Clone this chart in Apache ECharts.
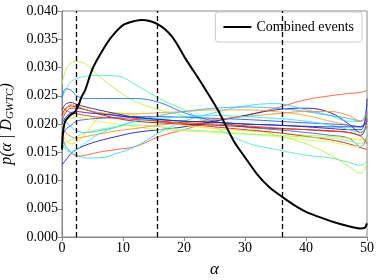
<!DOCTYPE html>
<html><head><meta charset="utf-8">
<script src="https://cdn.jsdelivr.net/npm/echarts@6/dist/echarts.min.js"></script>
<style>html,body{margin:0;padding:0;background:#fff}#c{width:380px;height:280px}</style>
</head><body><div id="c"></div>
<script>
// x positions for thin posterior curves
const alphaGrid = [0, 0.6, 1.5, 2.4, 4, 6, 9, 12, 16, 20, 25, 30, 35, 40, 44, 47, 49, 50];
const evtColors = ['#b8f040','#50f0b0','#2070ff','#ff5a30','#1818b0','#30d8ff','#e6e600','#e02020','#a01010','#ffa020','#3050ff','#40b0ff','#2020a0','#d0ff40','#80ff80','#ff8c20','#ff3010','#20f0f0','#0030e0'];
const ev1  = [0.027,0.0295,0.0308,0.0311,0.0305,0.0285,0.026,0.024,0.0225,0.0215,0.0205,0.0195,0.018,0.0165,0.0145,0.0125,0.0113,0.013];
const ev2  = [0.0245,0.026,0.0275,0.028,0.0285,0.0286,0.0285,0.027,0.0245,0.0225,0.0195,0.0168,0.0155,0.0145,0.014,0.0132,0.0127,0.0135];
const ev3  = [0.0245,0.0262,0.026,0.025,0.0245,0.0245,0.0245,0.0245,0.0238,0.022,0.0205,0.0195,0.019,0.0185,0.018,0.0175,0.016,0.018];
const ev4  = [0.0185,0.016,0.015,0.0143,0.0145,0.015,0.0155,0.016,0.0178,0.019,0.0205,0.0215,0.0228,0.0243,0.025,0.0254,0.0256,0.026];
const ev5  = [0.0128,0.0136,0.0148,0.0155,0.0163,0.017,0.0178,0.0185,0.019,0.0195,0.0205,0.0215,0.0225,0.0228,0.022,0.02,0.0185,0.0195];
const ev6  = [0.0175,0.016,0.015,0.0145,0.014,0.014,0.0148,0.016,0.0185,0.0205,0.022,0.0232,0.0236,0.0225,0.0215,0.0205,0.0205,0.0235];
const ev7  = [0.0185,0.0172,0.0165,0.0168,0.0185,0.021,0.022,0.0215,0.0205,0.0198,0.0192,0.0188,0.0185,0.018,0.0178,0.0175,0.0172,0.0175];
const ev8  = [0.0205,0.022,0.0228,0.0228,0.0225,0.022,0.0215,0.021,0.0205,0.02,0.0195,0.019,0.0185,0.0178,0.0172,0.0165,0.0158,0.0155];
const ev9  = [0.0215,0.0228,0.0232,0.023,0.0225,0.0218,0.021,0.0205,0.0202,0.02,0.0198,0.0195,0.0192,0.019,0.0188,0.0185,0.018,0.021];
const ev10 = [0.021,0.0225,0.0235,0.0232,0.0225,0.022,0.0218,0.0218,0.022,0.0222,0.0225,0.0225,0.0222,0.0215,0.0205,0.0198,0.0195,0.0205];
const ev11 = [0.0175,0.019,0.0198,0.0205,0.0208,0.021,0.0212,0.0213,0.0213,0.0212,0.021,0.0208,0.0205,0.0202,0.02,0.0198,0.0195,0.022];
const ev12 = [0.0215,0.0205,0.0195,0.0188,0.0185,0.0188,0.0195,0.0205,0.0215,0.0222,0.0228,0.023,0.0228,0.0222,0.0215,0.021,0.0205,0.0215];
const ev13 = [0.0225,0.0235,0.0238,0.0235,0.023,0.0225,0.0218,0.0212,0.0208,0.0205,0.0203,0.02,0.0198,0.0195,0.0192,0.019,0.019,0.0245];
const ev14 = [0.0195,0.0205,0.021,0.0212,0.021,0.0205,0.02,0.0195,0.019,0.0188,0.0185,0.0182,0.0178,0.0172,0.0168,0.0162,0.016,0.017];
const ev15 = [0.0155,0.0165,0.0172,0.0178,0.0185,0.019,0.0195,0.0198,0.0195,0.019,0.0187,0.0183,0.018,0.0177,0.0175,0.017,0.0165,0.018];
const ev16 = [0.0195,0.0185,0.0178,0.0175,0.0178,0.0182,0.0188,0.0192,0.0198,0.0202,0.0208,0.0213,0.0218,0.0222,0.0222,0.0215,0.0205,0.022];
const ev17 = [0.023,0.0225,0.022,0.0218,0.0215,0.0212,0.021,0.0208,0.0205,0.0202,0.02,0.0197,0.0193,0.019,0.0187,0.0185,0.0178,0.0165];
const ev18 = [0.0165,0.0155,0.015,0.0155,0.0168,0.0182,0.0195,0.0205,0.021,0.0213,0.0215,0.0213,0.021,0.0205,0.0198,0.019,0.0185,0.0195];
const ev19 = [0.02,0.0212,0.022,0.0222,0.022,0.0218,0.0215,0.0212,0.0208,0.0205,0.0203,0.02,0.0198,0.0196,0.0195,0.0195,0.0195,0.0205];
const eventCurves = [ev1,ev2,ev3,ev4,ev5,ev6,ev7,ev8,ev9,ev10,ev11,ev12,ev13,ev14,ev15,ev16,ev17,ev18,ev19];

// combined posterior
const combAlpha = [0,0.15,0.5,1.3,2.1,2.7,3.2,3.8,4.6,5.1,6.2,7.9,10,12.2,13.1,15.6,18,20.4,23,25.6,28.1,30,32,34,36.1,38,40.1,42,44.5,47,48.9,49.6,50];
const combP = [0.0155,0.0183,0.0204,0.0215,0.0221,0.0233,0.0248,0.026,0.0286,0.03,0.0322,0.0351,0.0375,0.0383,0.0384,0.0377,0.0355,0.0313,0.027,0.0224,0.0171,0.0141,0.0111,0.0088,0.0071,0.0057,0.0044,0.0036,0.00265,0.0019,0.0015,0.0016,0.0024];

const dashedAlpha = [2.4, 15.6, 36.1];
const xTicks = [0, 10, 20, 30, 40, 50];
const yTicks = [0, 0.005, 0.01, 0.015, 0.02, 0.025, 0.03, 0.035, 0.04];

const chart = echarts.init(document.getElementById('c'));
const serif = 'Liberation Serif';
const series = eventCurves.map((vals, i) => ({
  type: 'line', name: 'ev' + i, symbol: 'none', smooth: 0.4, silent: true,
  data: alphaGrid.map((a, j) => [a, vals[j]]),
  lineStyle: { color: evtColors[i], width: 0.9 }
}));
series.push({
  type: 'line', name: 'Combined events', symbol: 'none', smooth: 0.3, z: 10,
  data: combAlpha.map((a, j) => [a, combP[j]]),
  lineStyle: { color: '#000', width: 2 }, itemStyle: { color: '#000' },
  markLine: {
    silent: true, symbol: 'none', label: { show: false },
    lineStyle: { color: '#000', type: [5, 3], width: 1.3 },
    data: dashedAlpha.map(a => ({ xAxis: a }))
  }
});

chart.setOption({
  animation: false,
  grid: { left: 62, right: 13, top: 11, bottom: 43, show: true, borderColor: '#888', borderWidth: 1,
          containLabel: false, outerBoundsMode: 'none' },
  legend: {
    data: ['Combined events'], right: 18, top: 12, orient: 'vertical',
    icon: 'rect', itemWidth: 28, itemHeight: 2, itemGap: 4,
    padding: [8, 8, 8, 8], borderColor: '#ccc', borderWidth: 1, borderRadius: 3,
    backgroundColor: 'rgba(255,255,255,0.85)',
    textStyle: { fontFamily: serif, fontSize: 14, color: '#000' }
  },
  xAxis: {
    type: 'value', min: 0, max: 50, interval: 10,
    name: 'α', nameLocation: 'middle', nameGap: 24,
    nameTextStyle: { fontFamily: serif, fontSize: 17, fontStyle: 'italic', color: '#000' },
    axisLine: { lineStyle: { color: '#888' } },
    axisTick: { lineStyle: { color: '#888' }, length: 4 },
    axisLabel: { fontFamily: serif, fontSize: 14, color: '#000', margin: 4 },
    splitLine: { show: false }
  },
  yAxis: {
    type: 'value', min: 0, max: 0.04, interval: 0.005,
    name: '{m|p(α | D}{s|GWTC}{m|)}', nameLocation: 'middle', nameGap: 36,
    nameTextStyle: { fontFamily: serif, fontSize: 16, fontStyle: 'italic', color: '#000',
      rich: { m: { fontFamily: serif, fontSize: 16, fontStyle: 'italic', color: '#000' },
              s: { fontFamily: serif, fontSize: 11, fontStyle: 'italic', color: '#000', padding: [7, 0, 0, 0] } } },
    axisLine: { show: true, lineStyle: { color: '#888' } },
    axisTick: { show: true, lineStyle: { color: '#888' }, length: 4 },
    axisLabel: { fontFamily: serif, fontSize: 14, color: '#000', margin: 4, formatter: v => v.toFixed(3) },
    splitLine: { show: false }
  },
  series: series
});
</script></body></html>
